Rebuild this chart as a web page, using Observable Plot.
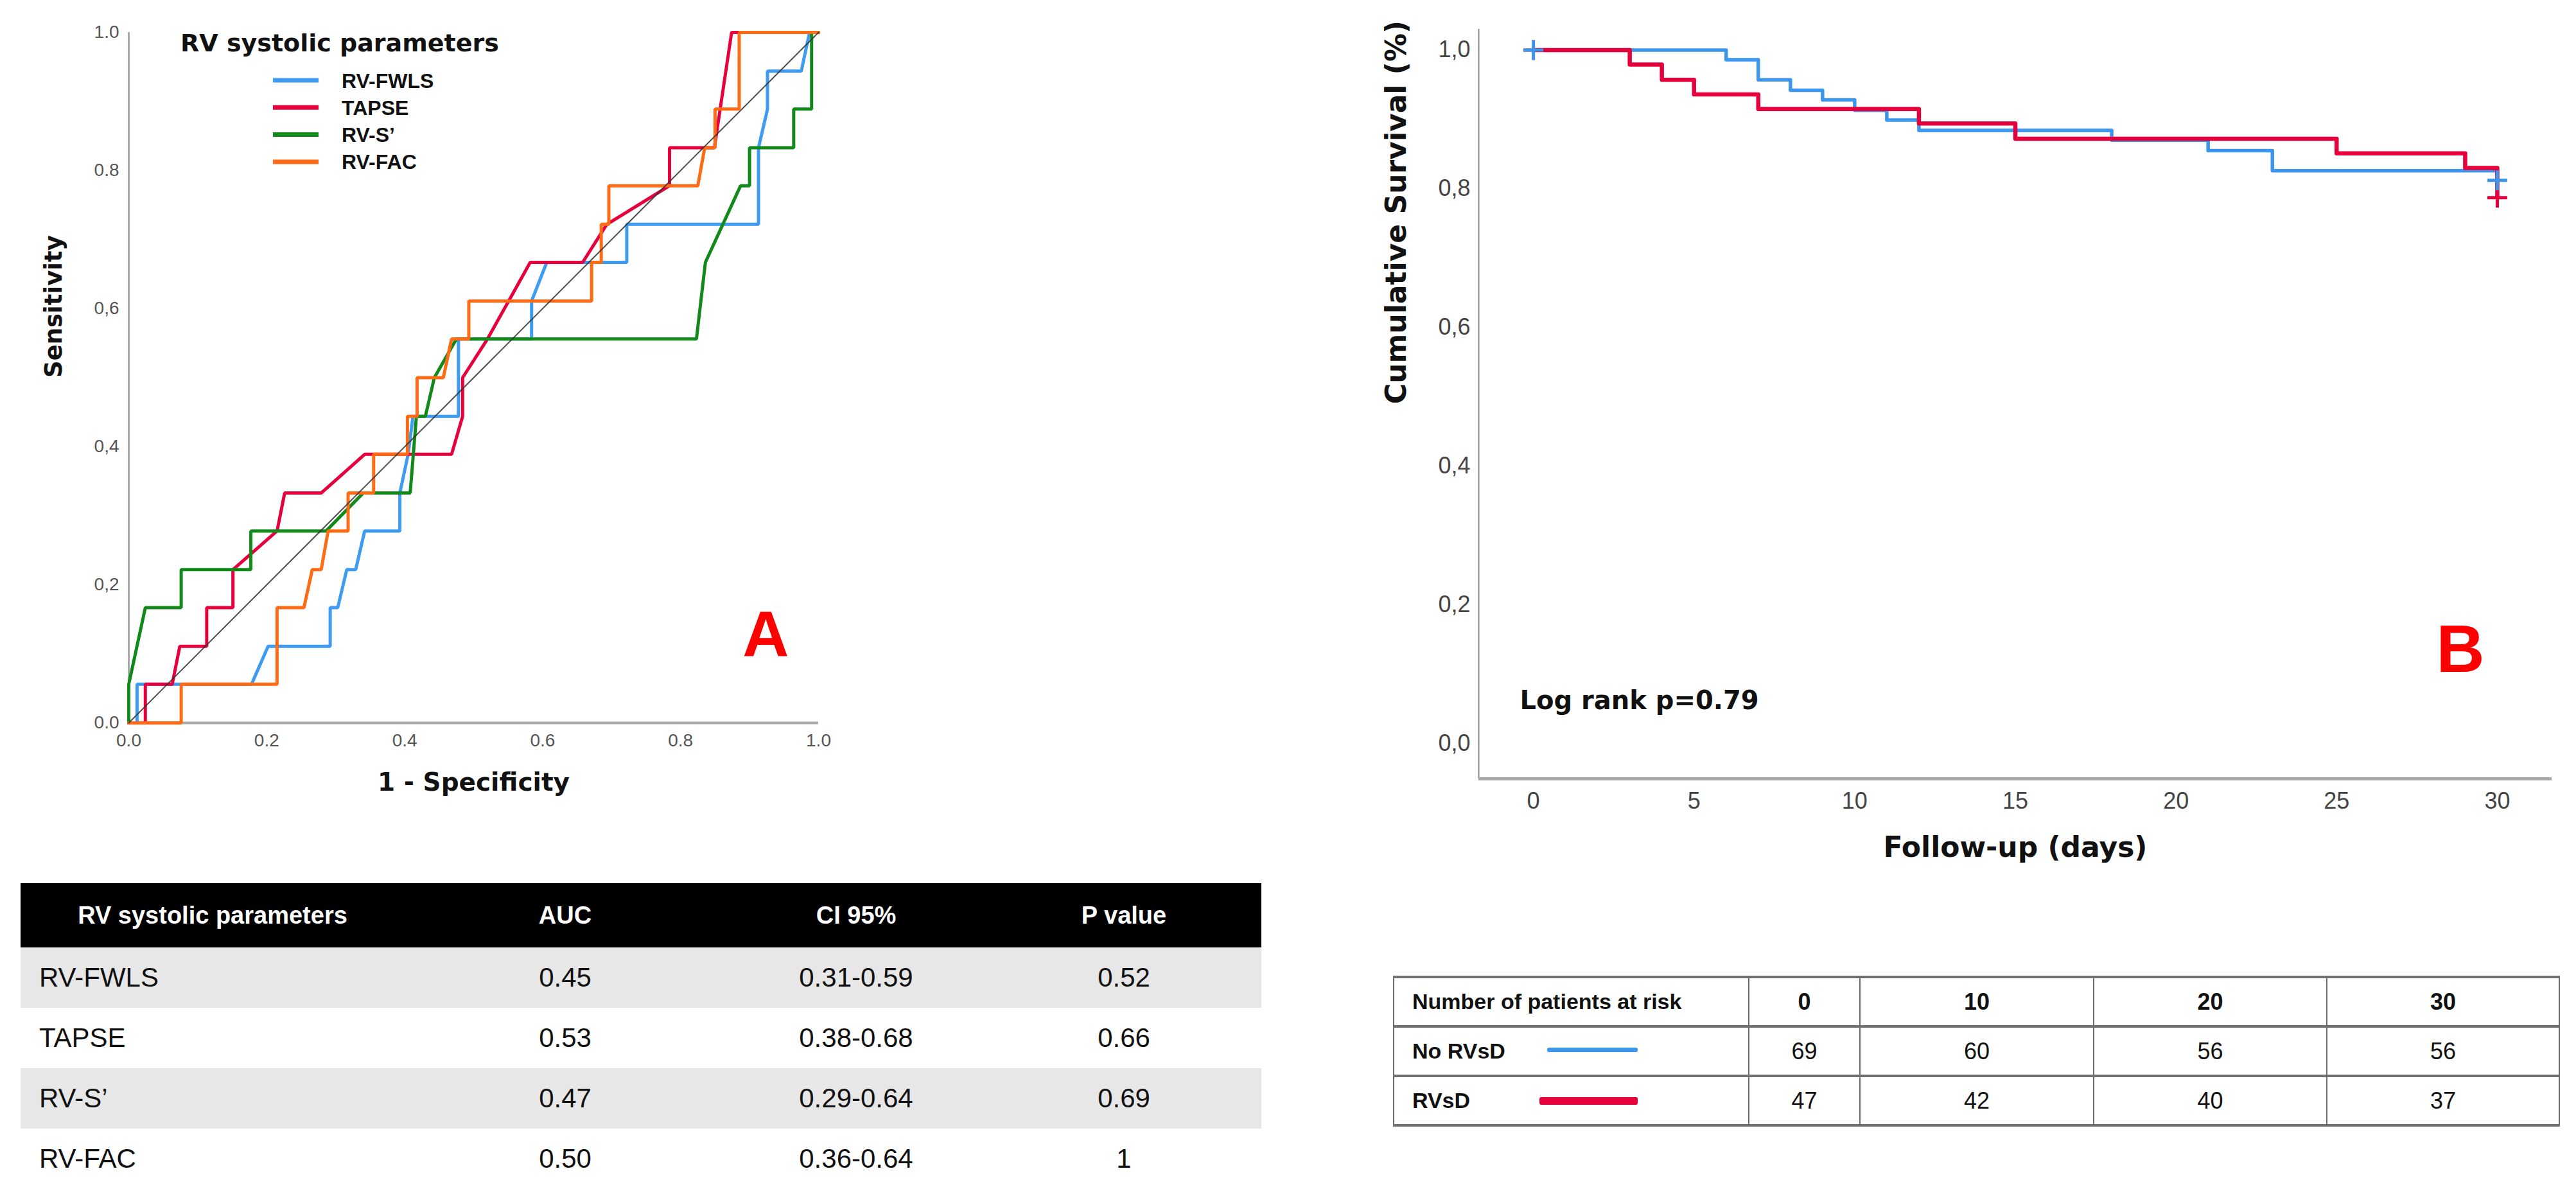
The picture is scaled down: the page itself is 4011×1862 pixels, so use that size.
<!DOCTYPE html>
<html>
<head>
<meta charset="utf-8">
<script src="https://cdn.jsdelivr.net/npm/d3@7"></script>
<script src="https://cdn.jsdelivr.net/npm/@observablehq/plot@0.6"></script>
<style>
html, body { margin: 0; padding: 0; background: #fff; }
#page { position: relative; width: 4011px; height: 1862px; overflow: hidden; background: #fff; font-family: "Liberation Sans", Arial, sans-serif; }
#rocPlot { position: absolute; left: 0; top: 0; }
#kmPlot { position: absolute; left: 2100px; top: 0; }
#legendA { position: absolute; left: 0; top: 0; pointer-events: none; }
table { border-collapse: collapse; table-layout: fixed; }
#tableA { position: absolute; left: 32px; top: 1375px; width: 1932px; }
#tableA th { background: #000; color: #fff; font: bold 38px "Liberation Sans", Arial, sans-serif; height: 100px; padding: 0; text-align: center; }
#tableA td { height: 94px; padding: 0; font: 42px "Liberation Sans", Arial, sans-serif; color: #111; text-align: center; }
#tableA td.first { text-align: left; padding-left: 29px; }
#tableA tr.shade td { background: #e7e7e7; }
#tableBWrap { position: absolute; left: 2169px; top: 1519px; width: 1815px; height: 240px; }
#tableB { width: 1815px; }
#tableB td { padding: 0; text-align: center; font: 36px "Liberation Sans", Arial, sans-serif; color: #111;
  border-left: 2px solid #6a6a6a; border-right: 2px solid #6a6a6a; border-top: 4px solid #707070; border-bottom: 4px solid #707070; }
#tableB td.first { text-align: left; padding-left: 28px; font-weight: bold; font-size: 34px; }
#tableB tr.head td { font-weight: bold; height: 73px; }
#tableB tr.body td { height: 73px; }
.swatch { position: absolute; }
</style>
</head>
<body>
<div id="page">
  <div id="rocPlot"></div>
  <svg id="legendA" width="1300" height="320"></svg>
  <div id="kmPlot"></div>
  <table id="tableA"></table>
  <div id="tableBWrap"><table id="tableB"></table></div>
</div>
<script>
// ---------------- Panel A : ROC curves ----------------
const rocSeries = ["RV-FWLS", "TAPSE", "RV-S\u2019", "RV-FAC"];
const rocColors = ["#3d9bf2", "#e8003d", "#118a1b", "#ff6a14"];

const fwlsFpr = [0, 0.012, 0.012, 0.178, 0.202, 0.292, 0.292, 0.303, 0.316, 0.329, 0.342, 0.393, 0.393, 0.405, 0.412, 0.478, 0.478, 0.584, 0.584, 0.606, 0.722, 0.722, 0.913, 0.913, 0.926, 0.926, 0.975, 0.987, 1];
const fwlsTpr = [0, 0, 0.056, 0.056, 0.111, 0.111, 0.167, 0.167, 0.222, 0.222, 0.278, 0.278, 0.333, 0.389, 0.444, 0.444, 0.556, 0.556, 0.611, 0.667, 0.667, 0.722, 0.722, 0.833, 0.889, 0.944, 0.944, 1, 1];

const tapseFpr = [0, 0.024, 0.024, 0.063, 0.074, 0.113, 0.113, 0.151, 0.151, 0.215, 0.226, 0.279, 0.342, 0.468, 0.484, 0.484, 0.52, 0.582, 0.658, 0.693, 0.784, 0.784, 0.849, 0.874, 1];
const tapseTpr = [0, 0, 0.056, 0.056, 0.111, 0.111, 0.167, 0.167, 0.222, 0.278, 0.333, 0.333, 0.389, 0.389, 0.444, 0.5, 0.556, 0.667, 0.667, 0.722, 0.778, 0.833, 0.833, 1, 1];

const sPrimeFpr = [0, 0, 0.024, 0.076, 0.076, 0.177, 0.177, 0.286, 0.340, 0.408, 0.417, 0.430, 0.443, 0.475, 0.823, 0.836, 0.887, 0.900, 0.900, 0.964, 0.964, 0.990, 0.990, 1];
const sPrimeTpr = [0, 0.056, 0.167, 0.167, 0.222, 0.222, 0.278, 0.278, 0.333, 0.333, 0.444, 0.444, 0.5, 0.556, 0.556, 0.667, 0.778, 0.778, 0.833, 0.833, 0.889, 0.889, 1, 1];

const facFpr = [0, 0.076, 0.076, 0.215, 0.215, 0.254, 0.266, 0.279, 0.289, 0.318, 0.318, 0.355, 0.355, 0.404, 0.404, 0.418, 0.418, 0.456, 0.468, 0.493, 0.493, 0.671, 0.671, 0.685, 0.685, 0.696, 0.696, 0.825, 0.835, 0.85, 0.85, 0.885, 0.885, 1];
const facTpr = [0, 0, 0.056, 0.056, 0.167, 0.167, 0.222, 0.222, 0.278, 0.278, 0.333, 0.333, 0.389, 0.389, 0.444, 0.444, 0.5, 0.5, 0.556, 0.556, 0.611, 0.611, 0.667, 0.667, 0.722, 0.722, 0.778, 0.778, 0.833, 0.833, 0.889, 0.889, 1, 1];

const rocXTicks = [0, 0.2, 0.4, 0.6, 0.8, 1.0];
const rocXTickLabels = ["0.0", "0.2", "0.4", "0.6", "0.8", "1.0"];
const rocYTicks = [0, 0.2, 0.4, 0.6, 0.8, 1.0];
const rocYTickLabels = ["0.0", "0,2", "0,4", "0,6", "0.8", "1.0"];
const rocDomain = [0, 1];

// ---------------- Table A ----------------
const tableAHeader = ["RV systolic parameters", "AUC", "CI 95%", "P value"];
const aucValues = ["0.45", "0.53", "0.47", "0.50"];
const ciValues = ["0.31-0.59", "0.38-0.68", "0.29-0.64", "0.36-0.64"];
const pValues = ["0.52", "0.66", "0.69", "1"];

// ---------------- Panel B : Kaplan-Meier ----------------
const kmGroups = ["No RVsD", "RVsD"];
const kmColors = ["#3d96ee", "#e6003b"];
const noRvsdDays = [0, 6, 7, 8, 9, 10, 11, 12, 18, 21, 23, 30];
const noRvsdSurv = [1, 0.986, 0.957, 0.942, 0.928, 0.913, 0.899, 0.884, 0.870, 0.855, 0.826, 0.812];
const rvsdDays = [0, 3, 4, 5, 7, 12, 15, 25, 29, 30];
const rvsdSurv = [1, 0.979, 0.957, 0.936, 0.915, 0.894, 0.872, 0.851, 0.830, 0.787];
const censorDays = [0, 30];
const kmXTicks = [0, 5, 10, 15, 20, 25, 30];
const kmYTicks = [0, 0.2, 0.4, 0.6, 0.8, 1.0];
const kmYTickLabels = ["0,0", "0,2", "0,4", "0,6", "0,8", "1,0"];
const kmXDomain = [-1.7, 31.7];
const kmYDomain = [-0.051, 1.03];

// ---------------- Table B ----------------
const riskTitle = "Number of patients at risk";
const riskTimes = [0, 10, 20, 30];
const noRvsdAtRisk = [69, 60, 56, 56];
const rvsdAtRisk = [47, 42, 40, 37];

// ================= build Panel A =================
const rocFpr = [fwlsFpr, tapseFpr, sPrimeFpr, facFpr];
const rocTpr = [fwlsTpr, tapseTpr, sPrimeTpr, facTpr];
const rocRows = rocSeries.flatMap((name, i) => rocFpr[i].map((fx, j) => ({name, fpr: fx, tpr: rocTpr[i][j]})));
const chance = rocDomain.map(v => ({x: v, y: v}));
const xLabA = new Map(rocXTicks.map((t, i) => [t, rocXTickLabels[i]]));
const yLabA = new Map(rocYTicks.map((t, i) => [t, rocYTickLabels[i]]));
const titleFont = "DejaVu Sans, Liberation Sans, sans-serif";

const rocPlot = Plot.plot({
  width: 1300, height: 1300,
  marginLeft: 200, marginRight: 26, marginTop: 50, marginBottom: 175,
  style: {fontFamily: "Liberation Sans, Arial, sans-serif", background: "transparent", overflow: "visible"},
  x: {domain: rocDomain},
  y: {domain: rocDomain},
  color: {domain: rocSeries, range: rocColors},
  marks: [
    Plot.axisX({ticks: rocXTicks, tickFormat: d => xLabA.get(d), tickSize: 0, tickPadding: 17, fontSize: 28, color: "#555", label: null}),
    Plot.axisY({ticks: rocYTicks, tickFormat: d => yLabA.get(d), tickSize: 0, tickPadding: 15, fontSize: 28, color: "#555", label: null}),
    Plot.ruleX([0], {stroke: "#a8a8a8", strokeWidth: 3}),
    Plot.ruleY([0], {stroke: "#a8a8a8", strokeWidth: 4}),
    Plot.line(rocRows, {x: "fpr", y: "tpr", z: "name", stroke: "name", strokeWidth: 5, strokeLinejoin: "miter"}),
    Plot.line(chance, {x: "x", y: "y", stroke: "#333", strokeWidth: 2, strokeOpacity: 0.85}),
    Plot.text(["1 - Specificity"], {text: d => d, frameAnchor: "bottom", dy: 105, fontFamily: titleFont, fontWeight: "bold", fontSize: 39, fill: "#111"}),
    Plot.text(["Sensitivity"], {text: d => d, frameAnchor: "left", dx: -116, rotate: -90, fontFamily: titleFont, fontWeight: "bold", fontSize: 37, fill: "#111"}),
    Plot.text(["A"], {text: d => d, frameAnchor: "bottom-right", dx: -46, dy: -104, fontWeight: "bold", fontSize: 100, fill: "#ff0000"})
  ]
});
document.getElementById("rocPlot").appendChild(rocPlot);

// legend overlay for panel A
(function () {
  const svg = d3.select("#legendA");
  svg.append("text").attr("x", 281).attr("y", 80)
    .attr("font-family", titleFont).attr("font-weight", "bold").attr("font-size", 38).attr("fill", "#111")
    .text("RV systolic parameters");
  const top = 125, step = 42.3;
  rocSeries.forEach((name, i) => {
    const y = top + i * step;
    svg.append("line").attr("x1", 425).attr("x2", 496).attr("y1", y).attr("y2", y)
      .attr("stroke", rocColors[i]).attr("stroke-width", 7);
    svg.append("text").attr("x", 532).attr("y", y).attr("dy", "0.36em")
      .attr("font-family", "Liberation Sans, Arial, sans-serif").attr("font-weight", "bold")
      .attr("font-size", 32).attr("fill", "#111").text(name);
  });
})();

// ================= build Table A =================
(function () {
  const t = d3.select("#tableA");
  const cg = t.append("colgroup");
  [598, 500, 406, 428].forEach(w => cg.append("col").style("width", w + "px"));
  const hr = t.append("tr");
  tableAHeader.forEach(h => hr.append("th").text(h));
  rocSeries.forEach((name, i) => {
    const tr = t.append("tr").attr("class", i % 2 === 0 ? "shade" : "");
    tr.append("td").attr("class", "first").text(name);
    tr.append("td").text(aucValues[i]);
    tr.append("td").text(ciValues[i]);
    tr.append("td").text(pValues[i]);
  });
})();

// ================= build Panel B =================
const kmDays = [noRvsdDays, rvsdDays];
const kmSurv = [noRvsdSurv, rvsdSurv];
const kmRows = kmGroups.map((g, i) => kmDays[i].map((d, j) => ({group: g, day: d, surv: kmSurv[i][j]})));
function survAt(i, t) {
  let s = kmSurv[i][0];
  kmDays[i].forEach((d, j) => { if (d <= t) s = kmSurv[i][j]; });
  return s;
}
const censorRows = [1, 0].flatMap(i => censorDays.map(t => ({group: kmGroups[i], day: t, surv: survAt(i, t)})));
const yLabB = new Map(kmYTicks.map((t, i) => [t, kmYTickLabels[i]]));

const kmPlot = Plot.plot({
  width: 1890, height: 1400,
  marginLeft: 202, marginRight: 17, marginTop: 45, marginBottom: 188,
  style: {fontFamily: "Liberation Sans, Arial, sans-serif", background: "transparent", overflow: "visible"},
  x: {domain: kmXDomain},
  y: {domain: kmYDomain},
  color: {domain: kmGroups, range: kmColors},
  marks: [
    Plot.axisX({ticks: kmXTicks, tickSize: 0, tickPadding: 21, fontSize: 36, color: "#444", label: null}),
    Plot.axisY({ticks: kmYTicks, tickFormat: d => yLabB.get(d), tickSize: 0, tickPadding: 13, fontSize: 36, color: "#444", label: null}),
    Plot.ruleX([kmXDomain[0]], {stroke: "#8a8a8a", strokeWidth: 2}),
    Plot.ruleY([kmYDomain[0]], {stroke: "#a8a8a8", strokeWidth: 5}),
    Plot.line(kmRows[0], {x: "day", y: "surv", stroke: "group", curve: "step-after", strokeWidth: 5.5}),
    Plot.line(kmRows[1], {x: "day", y: "surv", stroke: "group", curve: "step-after", strokeWidth: 6.5}),
    Plot.dot(censorRows, {x: "day", y: "surv", stroke: "group", symbol: "plus", r: 10, strokeWidth: 5}),
    Plot.text(["Follow-up (days)"], {text: d => d, frameAnchor: "bottom", dy: 121, fontFamily: titleFont, fontWeight: "bold", fontSize: 44, fill: "#111"}),
    Plot.text(["Cumulative Survival (%)"], {text: d => d, frameAnchor: "left", dx: -128, rotate: -90, fontFamily: titleFont, fontWeight: "bold", fontSize: 44, fill: "#111"}),
    Plot.text(["Log rank p=0.79"], {text: d => d, frameAnchor: "bottom-left", dx: 64, dy: -109, textAnchor: "start", fontFamily: titleFont, fontWeight: "bold", fontSize: 40, fill: "#111"}),
    Plot.text(["B"], {text: d => d, frameAnchor: "bottom-right", dx: -105, dy: -167, fontWeight: "bold", fontSize: 104, fill: "#ff0000"})
  ]
});
document.getElementById("kmPlot").appendChild(kmPlot);

// ================= build Table B =================
(function () {
  const t = d3.select("#tableB");
  const cg = t.append("colgroup");
  [553, 173, 364, 363, 362].forEach(w => cg.append("col").style("width", w + "px"));
  const hr = t.append("tr").attr("class", "head");
  hr.append("td").attr("class", "first").text(riskTitle);
  riskTimes.forEach(v => hr.append("td").text(v));
  const atRisk = [noRvsdAtRisk, rvsdAtRisk];
  kmGroups.forEach((g, i) => {
    const tr = t.append("tr").attr("class", "body");
    tr.append("td").attr("class", "first").text(g);
    atRisk[i].forEach(v => tr.append("td").text(v));
  });
  const wrap = d3.select("#tableBWrap");
  const sw = [{left: 240, width: 141, top: 115, h: 7}, {left: 228, width: 153, top: 195, h: 12}];
  kmGroups.forEach((g, i) => {
    wrap.append("div").attr("class", "swatch")
      .style("left", sw[i].left + "px").style("width", sw[i].width + "px")
      .style("top", (sw[i].top - sw[i].h / 2) + "px").style("height", sw[i].h + "px")
      .style("background", kmColors[i]).style("border-radius", "3px");
  });
})();
</script>
</body>
</html>
